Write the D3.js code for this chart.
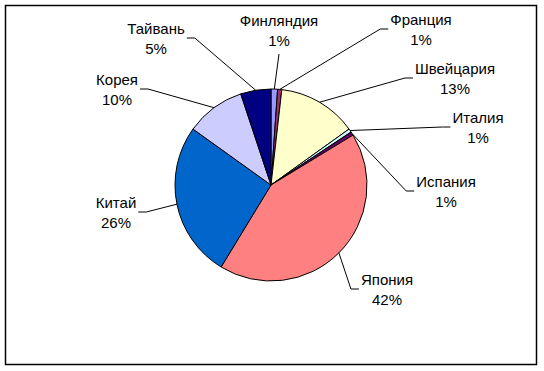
<!DOCTYPE html>
<html>
<head>
<meta charset="utf-8">
<script src="https://cdn.jsdelivr.net/npm/d3@7"></script>
<style>
  body { margin: 0; background: #fff; }
  svg text { font-family: Arial, "Liberation Sans", sans-serif; font-size: 15px; fill: #000; }
</style>
</head>
<body>
<svg width="544" height="371"></svg>
<script>
// data, clockwise from 12 o'clock
const countries = ['Финляндия', 'Франция', 'Швейцария', 'Италия', 'Испания', 'Япония', 'Китай', 'Корея', 'Тайвань'];
const shares = [1.1, 0.7, 13.3, 0.6, 0.6, 42.4, 26.2, 10.0, 5.1];
const pctLabels = ['1%', '1%', '13%', '1%', '1%', '42%', '26%', '10%', '5%'];

// Excel default fills
const colors = ['#9999FF', '#993366', '#FFFFCC', '#CCFFFF', '#660066', '#FF8080', '#0066CC', '#CCCCFF', '#000080'];

// label placement (text centre x, first baseline y) relative to the pie centre
const labelPos = [[8, -159], [150, -160], [184, -111], [207, -62], [175, 2], [116, 100], [-155, 23], [-154, -100], [-115, -151]];

const svg = d3.select('svg');
const cx = 271, cy = 185, radius = 96;

svg.append('rect')
  .attr('x', 5.5).attr('y', 5.5)
  .attr('width', 531).attr('height', 359)
  .attr('fill', '#fff')
  .attr('stroke', '#000')
  .attr('stroke-width', 1.5);

const pie = d3.pie().sort(null).value(d => d.value);
const arcs = pie(countries.map((c, i) => ({ name: c, value: shares[i], pct: pctLabels[i], color: colors[i], pos: labelPos[i] })));

const arc = d3.arc().innerRadius(0).outerRadius(radius);
const edge = d3.arc().innerRadius(radius).outerRadius(radius);

const g = svg.append('g').attr('transform', `translate(${cx},${cy})`);

g.selectAll('path.slice')
  .data(arcs)
  .enter()
  .append('path')
  .attr('class', 'slice')
  .attr('d', arc)
  .attr('fill', d => d.data.color)
  .attr('stroke', '#000')
  .attr('stroke-width', 1)
  .attr('stroke-linejoin', 'round');

const labels = g.selectAll('g.label')
  .data(arcs)
  .enter()
  .append('g')
  .attr('class', 'label');

labels.each(function(d) {
  const el = d3.select(this);
  const [lx, ly] = d.data.pos;
  const t = el.append('text').attr('text-anchor', 'middle');
  t.append('tspan').attr('x', lx).attr('y', ly).text(d.data.name);
  t.append('tspan').attr('x', lx).attr('y', ly + 20).text(d.data.pct);

  const half = t.node().getBBox().width / 2;
  const [px, py] = edge.centroid(d);
  let pts;
  if (Math.abs(px - lx) < half) {
    pts = [[lx, ly + 28], [px, py]];
  } else if (px > lx) {
    const sx = lx + half + 2;
    pts = [[sx, ly + 4], [sx + 8, ly + 4], [px, py]];
  } else {
    const sx = lx - half - 2;
    pts = [[sx, ly + 4], [sx - 8, ly + 4], [px, py]];
  }
  el.insert('path', 'text')
    .attr('d', d3.line()(pts))
    .attr('fill', 'none')
    .attr('stroke', '#000')
    .attr('stroke-width', 1);
});
</script>
</body>
</html>
